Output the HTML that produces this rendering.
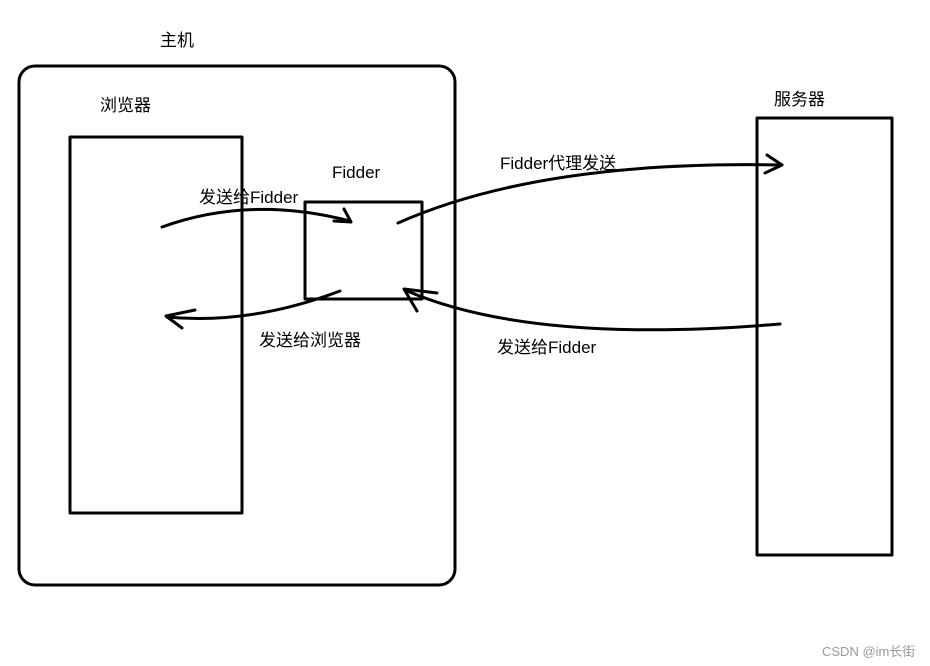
<!DOCTYPE html>
<html><head><meta charset="utf-8"><style>
html,body{margin:0;padding:0;background:#fff;width:930px;height:666px;overflow:hidden}
svg{display:block}
text{font-family:"Liberation Sans","Noto Sans CJK SC",sans-serif;font-size:17px;fill:#000}
</style></head><body>
<svg width="930" height="666" viewBox="0 0 930 666" xmlns="http://www.w3.org/2000/svg">
<g fill="none" stroke="#000" stroke-width="3" stroke-linecap="round" stroke-linejoin="round">
<rect x="19" y="66" width="436" height="519" rx="16"/>
<rect x="70" y="137" width="172" height="376"/>
<rect x="305" y="202" width="117" height="97"/>
<rect x="757" y="118" width="135" height="437"/>
<path d="M162 227 Q250 195 350 221"/>
<path d="M344 209 L351 222 L334 221"/>
<path d="M398 223 Q540 160 782 165"/>
<path d="M767 155 L782 165 L765 173"/>
<path d="M780 324 Q530 345 405 290"/>
<path d="M437 293 L404 289 L417 311"/>
<path d="M340 291 Q250 325 167 317"/>
<path d="M195 310 L166 316 L182 328"/>
</g>
<text x="160" y="46">主机</text>
<text x="100" y="111">浏览器</text>
<text x="332" y="178">Fidder</text>
<text x="199" y="203">发送给Fidder</text>
<text x="259" y="346">发送给浏览器</text>
<text x="500" y="169">Fidder代理发送</text>
<text x="497" y="353">发送给Fidder</text>
<text x="774" y="105">服务器</text>
<text x="822" y="656" style="font-size:13px;fill:#999">CSDN @im长街</text>
</svg>
</body></html>
